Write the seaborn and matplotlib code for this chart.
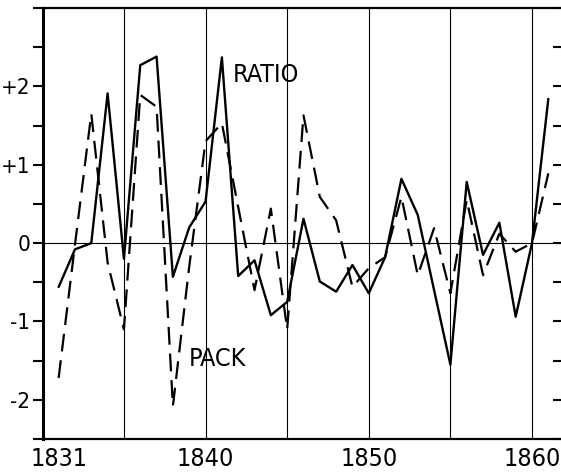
import numpy as np
import pandas as pd
import matplotlib
matplotlib.use('Agg')
import matplotlib.pyplot as plt
import seaborn as sns
from matplotlib.ticker import MultipleLocator

# ============================================================
# DATA
# ============================================================

years = list(range(1831, 1862))

ratio = [
    -0.56, -0.08, 0.00, 1.91, -0.20, 2.27, 2.38, -0.43, 0.20, 0.53,
    2.37, -0.42, -0.22, -0.92, -0.75, 0.31, -0.49, -0.62, -0.28, -0.64,
    -0.18, 0.82, 0.36, -0.60, -1.55, 0.78, -0.15, 0.26, -0.94, 0.00,
    1.84
]

pack = [
    -1.72, -0.02, 1.65, -0.25, -1.10, 1.89, 1.74, -2.08, -0.30, 1.30,
    1.53, 0.46, -0.60, 0.44, -1.10, 1.63, 0.59, 0.29, -0.56, -0.32,
    -0.18, 0.59, -0.41, 0.19, -0.64, 0.55, -0.41, 0.12, -0.11, 0.00,
    0.89
]

grid_years = [1835, 1840, 1845, 1850, 1855, 1860]
xtick_years = [1831, 1840, 1850, 1860]
ytick_vals = [-2, -1, 0, 1, 2]
ytick_labels = ['-2', '-1', '0', '+1', '+2']

df = pd.DataFrame({'year': years, 'ratio': ratio, 'pack': pack})

# ============================================================
# STYLE
# ============================================================

sns.set_style('white')
plt.rcParams['font.family'] = ['DejaVu Sans']
plt.rcParams['font.stretch'] = 'condensed'
plt.rcParams['text.color'] = 'black'
plt.rcParams['xtick.color'] = 'black'
plt.rcParams['ytick.color'] = 'black'
FS = 18

fig = plt.figure(figsize=(5.61, 4.76), dpi=100)
ax = fig.add_axes([0.0766, 0.0777, 0.927, 0.9055])

# ============================================================
# PLOT
# ============================================================

for x in grid_years:
    ax.axvline(x, color='black', lw=0.8, zorder=1)
ax.axhline(0, color='black', lw=0.8, zorder=1)

sns.lineplot(data=df, x='year', y='ratio', color='black', lw=1.7, ax=ax, zorder=3)
sns.lineplot(data=df, x='year', y='pack', color='black', lw=1.6,
             linestyle=(0, (8, 4)), ax=ax, zorder=3)

ax.text(1841.67, 2.06, 'RATIO', fontsize=FS, va='baseline', ha='left')
ax.text(1838.95, -1.57, 'PACK', fontsize=FS, va='baseline', ha='left')

ax.set_xlim(1830.04, 1861.9)
ax.set_ylim(-2.5, 3.0)

ax.set_xticks(xtick_years)
ax.set_xticklabels([str(y) for y in xtick_years], fontsize=FS)
ax.tick_params(axis='x', length=0, pad=6)

ax.set_yticks(ytick_vals)
ax.set_yticklabels(ytick_labels, fontsize=16)
ax.yaxis.set_minor_locator(MultipleLocator(0.5))
ax.tick_params(axis='y', which='both', direction='out', length=7,
               width=1.5, left=True, right=False, pad=2)

sec = ax.secondary_yaxis('right')
sec.set_yticks(ytick_vals)
sec.yaxis.set_minor_locator(MultipleLocator(0.5))
sec.tick_params(axis='y', which='both', direction='in', length=7,
                width=1.5, labelright=False)

ax.set_xlabel('')
ax.set_ylabel('')

for side in ['left', 'top', 'bottom', 'right']:
    ax.spines[side].set_visible(True)
    ax.spines[side].set_color('black')
ax.spines['left'].set_linewidth(2.2)
ax.spines['top'].set_linewidth(1.6)
ax.spines['bottom'].set_linewidth(1.6)

fig.savefig('out.png', dpi=100)
plt.close(fig)
